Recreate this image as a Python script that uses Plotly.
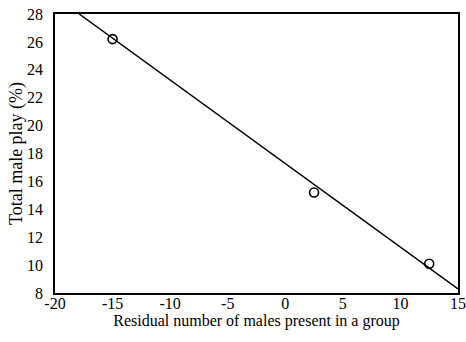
import plotly.graph_objects as go

# observed points
resid_males = [-15, 2.5, 12.5]
male_play = [26.2, 15.2, 10.1]

# fitted line, endpoints
fit_x = [-17.9, 15]
fit_y = [28, 8.3]

x_ticks = [-20, -15, -10, -5, 0, 5, 10, 15]
x_labels = ["-20", "-15", "-10", "-5", "0", "5", "10", "15"]
y_ticks = [8, 10, 12, 14, 16, 18, 20, 22, 24, 26, 28]

fig = go.Figure()

fig.add_trace(go.Scatter(x=fit_x, y=fit_y, mode="lines",
                         line=dict(color="black", width=1.5), showlegend=False))
fig.add_trace(go.Scatter(x=resid_males, y=male_play, mode="markers",
                         marker=dict(symbol="circle-open", size=9, color="black",
                                     line=dict(width=1.6)),
                         showlegend=False))

font = dict(family="Liberation Serif", size=16, color="black")

fig.update_layout(
    width=466, height=342,
    margin=dict(l=55, r=8, t=14, b=49, autoexpand=False),
    paper_bgcolor="white", plot_bgcolor="white",
    font=font,
    xaxis=dict(range=[-20, 15], tickvals=x_ticks, ticktext=x_labels,
               showgrid=False, zeroline=False, automargin=False,
               showline=True, linecolor="black", linewidth=1.5, mirror=True,
               ticks="", ticklen=0, ticklabelstandoff=-5, ticklabeloverflow="allow",
               title=dict(text="Residual number of males present in a group",
                          font=font, standoff=0)),
    yaxis=dict(range=[8, 28], tickvals=y_ticks, showgrid=False, zeroline=False,
               automargin=False, ticklabeloverflow="allow",
               showline=True, linecolor="black", linewidth=1.5, mirror=True,
               ticks="", ticklen=0, ticklabelstandoff=7,
               title=dict(text="Total male play (%)",
                          font=dict(family="Liberation Serif", size=18, color="black"),
                          standoff=0)),
)

# drop the browser's default 8px body margin so the figure sits at the corner
fig.write_html("out.html", config={"displayModeBar": False},
               post_script="document.body.style.margin='0';")
